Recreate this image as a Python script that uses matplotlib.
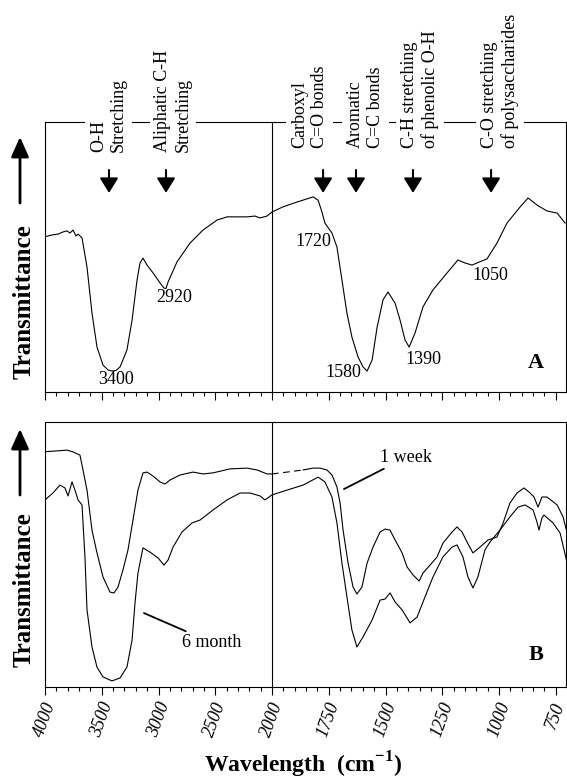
import numpy as np
import matplotlib
matplotlib.use("Agg")
import matplotlib.pyplot as plt
from matplotlib.ticker import FixedLocator, FixedFormatter, NullFormatter
from matplotlib.patches import FancyArrowPatch

plt.rcParams['font.family'] = ['Liberation Serif', 'DejaVu Serif']
plt.rcParams['mathtext.fontset'] = 'custom'
plt.rcParams['mathtext.rm'] = 'Liberation Serif'
plt.rcParams['mathtext.bf'] = 'Liberation Serif:bold'

# --- spectrum A (wavenumber, relative transmittance) ---
wn_a = [4000, 3938, 3885, 3841, 3806, 3780, 3753, 3727, 3709, 3674,
        3630, 3586, 3542, 3489, 3445, 3410, 3374, 3339, 3278, 3233,
        3189, 3163, 3137, 3101, 3048, 2987, 2952, 2934, 2916, 2837,
        2722, 2608, 2485, 2396, 2220, 2150, 2106, 2044, 2000, 1952,
        1890, 1819, 1797, 1780, 1767, 1736, 1714, 1692, 1670, 1648,
        1621, 1599, 1581, 1559, 1537, 1511, 1489, 1458, 1436, 1414,
        1396, 1370, 1335, 1291, 1229, 1181, 1150, 1119, 1097, 1053,
        1009, 965, 907, 872, 833, 789, 744, 709]
tr_a = [57.4, 58.1, 58.4, 59.2, 59.6, 58.8, 59.9, 57.7, 58.4, 57.0,
        46.2, 29.1, 16.5, 9.8, 8.0, 7.6, 7.8, 9.1, 15.4, 26.5,
        41.4, 47.7, 49.5, 46.9, 44.0, 40.3, 38.4, 38.2, 40.6, 48.1,
        55.1, 59.9, 63.6, 64.8, 64.8, 65.1, 64.4, 65.1, 66.6, 68.5,
        70.3, 72.2, 71.0, 66.6, 62.5, 58.8, 53.6, 41.4, 29.1, 20.2,
        12.8, 9.1, 7.6, 11.7, 23.9, 34.0, 36.9, 32.8, 26.5, 19.1,
        16.5, 21.7, 31.4, 37.7, 44.0, 48.8, 47.7, 46.9, 47.7, 49.2,
        55.1, 62.5, 68.5, 71.8, 69.2, 67.0, 66.2, 62.5]

# --- spectra B: 1 week and 6 month ---
wn_week = [4000, 3894, 3806, 3753, 3692, 3665, 3630, 3586, 3542, 3489,
           3427, 3392, 3357, 3313, 3269, 3225, 3181, 3137, 3101, 3048,
           2987, 2943, 2899, 2811, 2696, 2608, 2520, 2370, 2220, 2132,
           2044, 2000, 1934, 1863, 1819, 1789, 1758, 1736, 1714, 1700,
           1687, 1665, 1643, 1626, 1604, 1581, 1555, 1524, 1502, 1480,
           1458, 1427, 1405, 1379, 1352, 1335, 1304, 1273, 1247, 1207,
           1185, 1163, 1141, 1115, 1084, 1048, 1009, 982, 952, 921,
           890, 863, 846, 828, 811, 789, 744, 718, 700]
tr_week = [88.8, 89.1, 89.4, 88.7, 87.5, 81.9, 74.3, 59.2, 50.6, 41.5,
           35.8, 35.5, 37.7, 44.2, 51.7, 63.0, 74.3, 80.8, 81.1, 79.6,
           77.4, 76.6, 78.1, 80.0, 81.1, 80.4, 80.8, 82.3, 82.6, 81.9,
           80.4, 80.4, 81.1, 81.9, 82.6, 82.6, 81.9, 80.0, 75.5, 69.4,
           59.2, 46.8, 37.7, 35.1, 37.7, 46.8, 52.8, 58.5, 59.6, 59.2,
           55.5, 50.6, 45.3, 42.3, 40.0, 43.0, 46.0, 49.1, 54.3, 58.5,
           60.4, 58.5, 54.7, 50.6, 52.8, 55.5, 56.6, 61.9, 69.4, 73.2,
           75.1, 73.2, 71.7, 67.9, 71.7, 71.7, 68.7, 64.2, 58.1]

wn_month = [4000, 3930, 3868, 3824, 3797, 3762, 3736, 3709, 3674, 3648,
            3630, 3586, 3542, 3489, 3410, 3339, 3278, 3233, 3207, 3181,
            3137, 3075, 3004, 2952, 2916, 2872, 2793, 2705, 2634, 2520,
            2396, 2282, 2194, 2106, 2062, 2000, 1934, 1863, 1797, 1767,
            1736, 1714, 1692, 1670, 1648, 1626, 1599, 1559, 1524, 1502,
            1480, 1458, 1427, 1392, 1361, 1326, 1291, 1247, 1207, 1185,
            1159, 1137, 1115, 1093, 1062, 1040, 996, 952, 916, 885,
            850, 833, 824, 811, 802, 762, 731, 700]
tr_month = [70.6, 73.2, 76.2, 75.1, 72.1, 77.4, 74.3, 70.6, 68.7, 49.1,
            29.1, 15.1, 7.5, 3.8, 2.3, 3.4, 7.5, 17.7, 31.7, 43.0,
            52.5, 50.9, 48.7, 46.0, 47.9, 52.8, 58.5, 61.9, 63.0, 66.8,
            70.6, 73.2, 73.2, 72.1, 70.6, 72.5, 74.3, 76.2, 79.2, 77.4,
            71.7, 61.9, 46.8, 34.0, 21.5, 15.1, 18.9, 25.3, 32.8, 33.2,
            35.5, 32.1, 29.1, 24.2, 26.4, 34.0, 41.5, 49.1, 52.8, 53.6,
            49.1, 41.5, 37.4, 41.5, 51.7, 54.7, 59.2, 64.2, 67.9, 68.7,
            66.8, 62.3, 59.2, 63.8, 64.9, 61.9, 58.1, 46.8]

# peak labels in panel A
peak_labels = ['3400', '2920', '1720', '1580', '1390', '1050']
peak_label_wn = [3374, 2863, 1819, 1685, 1333, 1040]
peak_label_tr = [4.3, 34.7, 55.5, 6.9, 11.7, 43.2]

# band assignments above panel A
band_text = ['O-H\nStretching', 'Aliphatic C-H\nStretching',
             'Carboxyl\nC=O bonds', 'Aromatic\nC=C bonds',
             'C-H stretching\nof phenolic O-H',
             'C-O stretching\nof polysaccharides']
band_text_wn = [3441, 2872, 1835, 1588, 1348, 996]
band_arrow_wn = [3436, 2934, 1775, 1630, 1379, 1035]

major_ticks = [4000, 3500, 3000, 2500, 2000, 1750, 1500, 1250, 1000, 750]
tick_labels = ['4000', '3500', '3000', '2500', '2000',
               '1750', '1500', '1250', '1000', '750']
minor_ticks = ([w for w in range(2100, 4000, 100) if w % 500] +
               [w for w in range(800, 2000, 50) if w % 250])


# scale doubles below 2000 cm-1
def fwd(w):
    w = np.asarray(w, dtype=float)
    return np.where(w >= 2000, w, 2 * w - 2000)


def inv(u):
    u = np.asarray(u, dtype=float)
    return np.where(u >= 2000, u, (u + 2000) / 2)


W, H = 567, 781


def fig_xy(x, y):
    return (x / W, 1 - y / H)


fig = plt.figure(figsize=(W / 100, H / 100), dpi=100)
ax_a = fig.add_axes([45 / W, 1 - 391.5 / H, 521 / W, 269.5 / H])
ax_b = fig.add_axes([45 / W, 1 - 687 / H, 521 / W, 265 / H])

for ax in (ax_a, ax_b):
    ax.set_xscale('function', functions=(fwd, inv))
    ax.set_xlim(4000, 705)
    ax.set_ylim(0, 100)
    ax.xaxis.set_major_locator(FixedLocator(major_ticks))
    ax.xaxis.set_minor_locator(FixedLocator(minor_ticks))
    ax.tick_params(axis='x', which='major', direction='out', length=5.5, width=0.8)
    ax.tick_params(axis='x', which='minor', direction='out', length=3, width=0.8)
    ax.set_yticks([])
    ax.axvline(2000, color='black', lw=0.8)
    for s in ax.spines.values():
        s.set_linewidth(0.8)

ax_a.xaxis.set_major_formatter(NullFormatter())
ax_b.xaxis.set_major_formatter(FixedFormatter(tick_labels))
ax_b.tick_params(axis='x', which='major', labelrotation=70, labelsize=13, pad=4)
for lab in ax_b.get_xticklabels():
    lab.set_fontstyle('italic')

# panel A
ax_a.plot(wn_a, tr_a, color='black', lw=0.8)
for s, x, y in zip(peak_labels, peak_label_wn, peak_label_tr):
    ax_a.text(x, y, s, fontsize=13, ha='center', va='center')
ax_a.text(837, 10.6, 'A', fontsize=16, fontweight='bold', ha='center', va='center')

trans = ax_a.get_xaxis_transform()
for s, xt, xa in zip(band_text, band_text_wn, band_arrow_wn):
    yb = 0.889 if xt > 2000 else 0.9035
    ax_a.text(xt, yb, s, rotation=90, ha='center', va='bottom',
              multialignment='left', fontsize=13, linespacing=1.25,
              transform=trans, clip_on=False, zorder=4,
              bbox=dict(boxstyle='square,pad=0.25', fc='white', ec='none'))
    ax_a.annotate('', xy=(xa, 0.737), xytext=(xa, 0.822), xycoords=trans,
                  arrowprops=dict(arrowstyle='-|>,head_length=0.45,head_width=0.28',
                                  mutation_scale=20, lw=1.5, color='black',
                                  shrinkA=0, shrinkB=0))

# panel B: 1 week trace has a dashed splice just below 2000 cm-1
wk = np.array(wn_week)
tw = np.array(tr_week)
m1 = wk >= 2000
m2 = (wk <= 2000) & (wk >= 1863)
m3 = wk <= 1863
ax_b.plot(wk[m1], tw[m1], color='black', lw=0.8)
ax_b.plot(wk[m2], tw[m2], color='black', lw=0.8, ls=(0, (6, 4)))
ax_b.plot(wk[m3], tw[m3], color='black', lw=0.8)
ax_b.plot(wn_month, tr_month, color='black', lw=0.8)

ax_b.annotate('1 week', xy=(1683, 74.7), xytext=(1524, 83.4),
              fontsize=13, ha='left', va='bottom',
              arrowprops=dict(arrowstyle='-', lw=1.3, color='black',
                              shrinkA=0, shrinkB=0))
ax_b.annotate('6 month', xy=(3128, 27.9), xytext=(2793, 20.0),
              fontsize=13, ha='left', va='top',
              arrowprops=dict(arrowstyle='-', lw=1.3, color='black',
                              shrinkA=0, shrinkB=0))
ax_b.text(837, 12.1, 'B', fontsize=16, fontweight='bold', ha='center', va='center')

ax_b.set_xlabel(r'Wavelength  (cm$^{\mathbf{-1}}$)', fontsize=17,
                fontweight='bold', va='center')
ax_b.xaxis.set_label_coords((303 - 45) / 521, (687 - 765) / 265)

# y labels with upward arrows
for ytxt, y0, y1 in [(302, 203, 137), (590, 495, 429)]:
    fig.text(*fig_xy(24, ytxt), 'Transmittance', rotation=90, fontsize=18,
             fontweight='bold', ha='center', va='center')
    fig.add_artist(FancyArrowPatch(fig_xy(20, y0), fig_xy(20, y1),
                                   transform=fig.transFigure,
                                   arrowstyle='-|>,head_length=0.6,head_width=0.27',
                                   mutation_scale=20, lw=2, color='black',
                                   shrinkA=0, shrinkB=0))

fig.savefig('out.png', dpi=100)
